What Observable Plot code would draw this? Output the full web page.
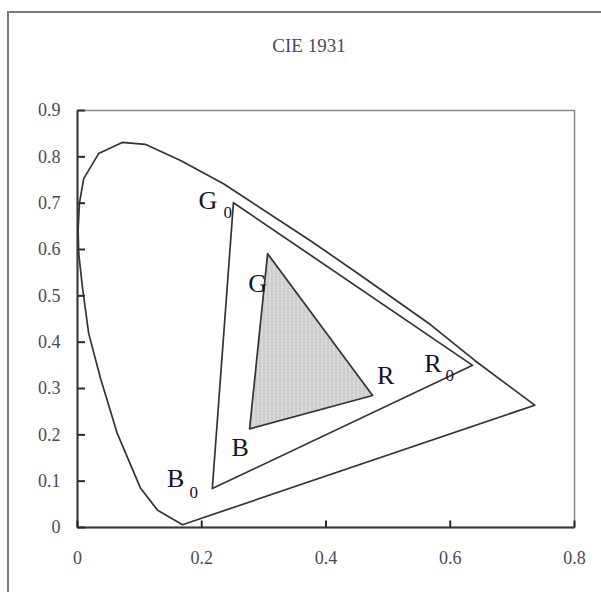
<!DOCTYPE html>
<html>
<head>
<meta charset="utf-8">
<script src="https://cdn.jsdelivr.net/npm/d3@7"></script>
<script src="https://cdn.jsdelivr.net/npm/@observablehq/plot@0.6"></script>
<style>
  html, body { margin: 0; padding: 0; background: #fff; }
  #chart { width: 601px; height: 592px; overflow: hidden; }
</style>
</head>
<body>
<div id="chart"></div>
<script>
// ---- data ----
const title = "CIE 1931";

// spectral locus (horseshoe), closed by the purple line
const locusX = [0.169, 0.129, 0.101, 0.064, 0.037, 0.018, 0.008, 0.002, 0.001, 0.003, 0.010, 0.034, 0.072, 0.109, 0.166, 0.235, 0.375, 0.456, 0.568, 0.640, 0.736, 0.169];
const locusY = [0.006, 0.037, 0.086, 0.203, 0.322, 0.419, 0.518, 0.591, 0.641, 0.699, 0.753, 0.807, 0.831, 0.827, 0.792, 0.742, 0.619, 0.544, 0.438, 0.360, 0.264, 0.006];

// reference gamut triangle G0 R0 B0
const gamut0Names = ["G0", "R0", "B0"];
const gamut0X = [0.251, 0.636, 0.217];
const gamut0Y = [0.701, 0.350, 0.084];

// inner (shaded) gamut triangle G R B
const gamutNames = ["G", "R", "B"];
const gamutX = [0.306, 0.475, 0.277];
const gamutY = [0.591, 0.285, 0.213];

// vertex labels (letter + optional subscript), positions in data units
const labelText = ["G", "G", "R", "R", "B", "B"];
const labelX = [0.210, 0.290, 0.496, 0.572, 0.262, 0.158];
const labelY = [0.706, 0.527, 0.328, 0.354, 0.173, 0.106];
const subText = ["0", "0", "0"];
const subX = [0.242, 0.599, 0.187];
const subY = [0.680, 0.328, 0.076];

// axes
const xTicks = [0, 0.2, 0.4, 0.6, 0.8];
const xTickLabels = ["0", "0.2", "0.4", "0.6", "0.8"];
const yTicks = [0, 0.1, 0.2, 0.3, 0.4, 0.5, 0.6, 0.7, 0.8, 0.9];
const yTickLabels = ["0", "0.1", "0.2", "0.3", "0.4", "0.5", "0.6", "0.7", "0.8", "0.9"];

// ---- build tables ----
const close = (xs, ys) => xs.concat([xs[0]]).map((x, i) => ({x, y: i < ys.length ? ys[i] : ys[0]}));
const locus = locusX.map((x, i) => ({x, y: locusY[i]}));
const gamut0 = close(gamut0X, gamut0Y);
const gamut = close(gamutX, gamutY);
const labels = labelText.map((t, i) => ({t, x: labelX[i], y: labelY[i]}));
const subs = subText.map((t, i) => ({t, x: subX[i], y: subY[i]}));
const yTickRows = yTicks.map(v => ({v, a: 0, b: 0.012}));
const xTickRows = xTicks.map(v => ({v, a: 0, b: 0.015}));
const xMax = xTicks[xTicks.length - 1], yMax = yTicks[yTicks.length - 1];
const axisLines = [
  {x1: 0, y1: 0, x2: 0, y2: yMax},
  {x1: 0, y1: 0, x2: xMax, y2: 0}
];

const plot = Plot.plot({
  width: 601,
  height: 592,
  marginLeft: 77,
  marginRight: 27,
  marginTop: 110,
  marginBottom: 65,
  style: {fontFamily: "'Liberation Serif', 'DejaVu Serif', serif", fontSize: "18px", background: "#fff", color: "#222"},
  x: {domain: [0, 0.8]},
  y: {domain: [0, 0.9]},
  marks: [
    Plot.frame({stroke: "#8a8a8a", strokeWidth: 1.5}),
    Plot.link(axisLines, {x1: "x1", y1: "y1", x2: "x2", y2: "y2", stroke: "#3a3a3a", strokeWidth: 2}),
    Plot.link(yTickRows, {x1: "a", x2: "b", y1: "v", y2: "v", stroke: "#2a2a2a", strokeWidth: 2}),
    Plot.link(xTickRows, {x1: "v", x2: "v", y1: "a", y2: "b", stroke: "#2a2a2a", strokeWidth: 2}),
    Plot.axisY(yTicks, {label: null, tickSize: 0, tickPadding: 17,
      tickFormat: d => yTickLabels[yTicks.indexOf(d)], fill: "#4a4a5a", fontSize: 18}),
    Plot.axisX(xTicks, {label: null, tickSize: 0, tickPadding: 24,
      tickFormat: d => xTickLabels[xTicks.indexOf(d)], fill: "#4a4a5a", fontSize: 18}),
    Plot.line(gamut, {x: "x", y: "y", fill: "url(#dots)", stroke: "#333", strokeWidth: 1.7}),
    Plot.line(gamut0, {x: "x", y: "y", stroke: "#333", strokeWidth: 1.7}),
    Plot.line(locus, {x: "x", y: "y", stroke: "#333", strokeWidth: 1.7}),
    Plot.text(labels, {x: "x", y: "y", text: "t", fontSize: 26, fill: "#141428"}),
    Plot.text(subs, {x: "x", y: "y", text: "t", fontSize: 17, fill: "#141428"}),
    Plot.text([title], {frameAnchor: "top", lineAnchor: "middle", dy: -65, dx: -17, fontSize: 19, fill: "#4a4a5a"})
  ]
});

const svg = d3.select(plot);
svg.insert("defs", ":first-child").html(
  '<pattern id="dots" patternUnits="userSpaceOnUse" width="4" height="3">' +
  '<rect width="4" height="3" fill="#d4d4d4"/>' +
  '<rect x="1" y="1" width="1" height="1" fill="#f4f4f4"/>' +
  '<rect x="3" y="0" width="1" height="3" fill="#c4c4c4"/>' +
  '</pattern>'
);
// outer figure border (cropped at right and bottom in the reference)
svg.append("path")
  .attr("d", "M8,592V12H601")
  .attr("fill", "none")
  .attr("stroke", "#7a7a7a")
  .attr("stroke-width", 2);

document.getElementById("chart").appendChild(plot);
</script>
</body>
</html>
